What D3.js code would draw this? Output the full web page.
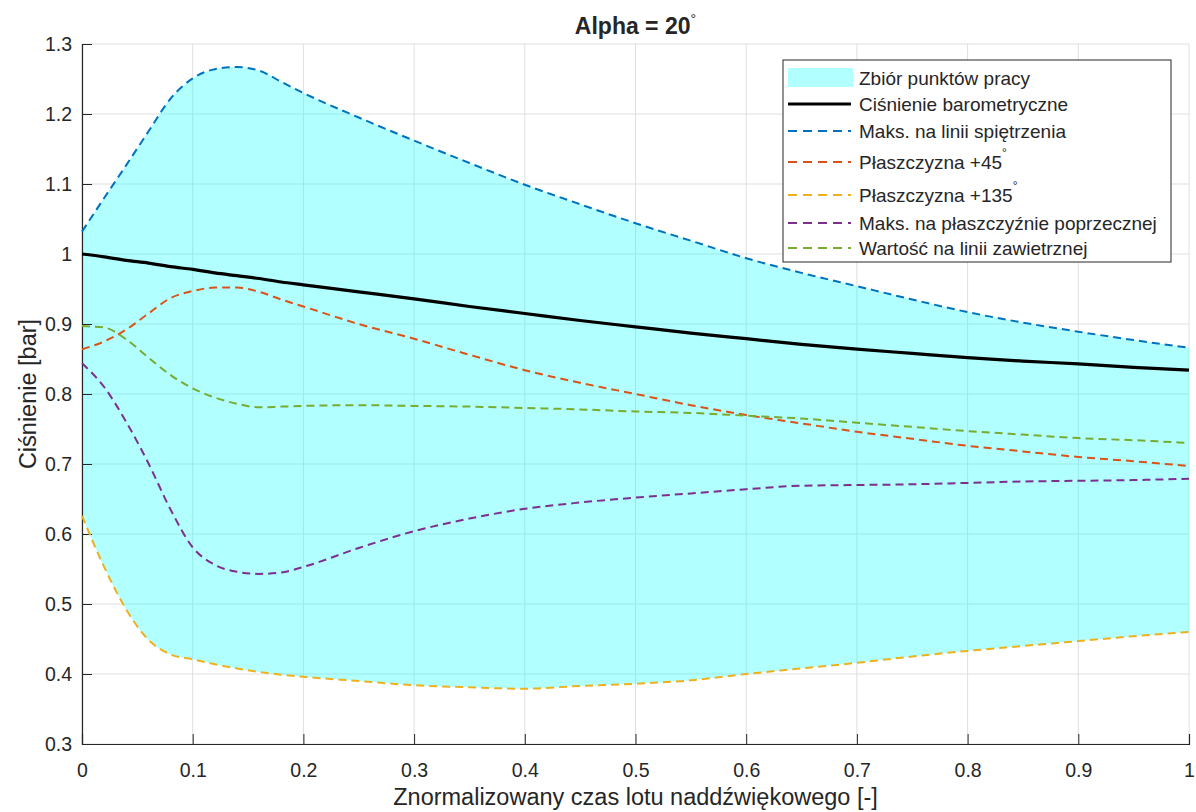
<!DOCTYPE html>
<html>
<head>
<meta charset="utf-8">
<script src="https://cdn.jsdelivr.net/npm/d3@7"></script>
<style>
  body { margin: 0; background: #fff; }
  text { font-family: "Liberation Sans", Arial, sans-serif; fill: #262626; }
</style>
</head>
<body>
<div class="chart"></div>
<script>
// Pressure ranges over normalized supersonic flight time, alpha = 20 deg

// x values (normalized time)
var tx = [0, 0.02, 0.04, 0.06, 0.08, 0.1, 0.12, 0.14, 0.16, 0.18, 0.2, 0.25, 0.3, 0.35, 0.4,
          0.45, 0.5, 0.55, 0.6, 0.65, 0.7, 0.75, 0.8, 0.85, 0.9, 0.95, 1];

var baro = [1.0, 0.996, 0.991, 0.987, 0.982, 0.978, 0.973, 0.969, 0.965, 0.960, 0.956, 0.946, 0.936,
            0.925, 0.915, 0.905, 0.896, 0.887, 0.879, 0.871, 0.864, 0.858, 0.852, 0.847, 0.843, 0.838, 0.834];
var stag = [1.032, 1.08, 1.127, 1.175, 1.222, 1.251, 1.264, 1.267, 1.262, 1.246, 1.230, 1.195, 1.162,
            1.13, 1.099, 1.071, 1.044, 1.019, 0.994, 0.973, 0.954, 0.935, 0.917, 0.902, 0.889, 0.877, 0.866];
var p45 = [0.864, 0.875, 0.892, 0.915, 0.937, 0.947, 0.952, 0.952, 0.946, 0.935, 0.925, 0.9, 0.879,
           0.856, 0.834, 0.816, 0.8, 0.784, 0.77, 0.758, 0.746, 0.736, 0.726, 0.718, 0.71, 0.704, 0.697];
var p135 = [0.626, 0.553, 0.492, 0.449, 0.428, 0.421, 0.414, 0.408, 0.403, 0.399, 0.396, 0.39, 0.384,
            0.381, 0.379, 0.383, 0.386, 0.391, 0.4, 0.408, 0.416, 0.425, 0.433, 0.44, 0.447, 0.454, 0.46];
var cross = [0.844, 0.81, 0.76, 0.701, 0.635, 0.581, 0.556, 0.546, 0.543, 0.545, 0.553, 0.58, 0.604,
             0.622, 0.636, 0.645, 0.652, 0.658, 0.664, 0.669, 0.670, 0.671, 0.673, 0.675, 0.676, 0.677, 0.679];
var lee = [0.897, 0.895, 0.878, 0.852, 0.827, 0.808, 0.795, 0.786, 0.781, 0.782, 0.783, 0.784, 0.783,
           0.782, 0.78, 0.778, 0.775, 0.773, 0.769, 0.765, 0.759, 0.753, 0.747, 0.742, 0.737, 0.734, 0.730];

var xTicks = [0, 0.1, 0.2, 0.3, 0.4, 0.5, 0.6, 0.7, 0.8, 0.9, 1];
var yTicks = [0.3, 0.4, 0.5, 0.6, 0.7, 0.8, 0.9, 1, 1.1, 1.2, 1.3];

var svgWidth = 1196, svgHeight = 812;
var margin = { top: 44, right: 7, bottom: 68, left: 82 };
var width = svgWidth - margin.left - margin.right;
var height = svgHeight - margin.top - margin.bottom;

var svg = d3.select(".chart").append("svg")
  .attr("width", svgWidth)
  .attr("height", svgHeight);

var chart = svg.append("g")
  .attr("transform", "translate(" + margin.left + "," + margin.top + ")");

var x = d3.scaleLinear().domain([0, 1]).range([0, width]);
var y = d3.scaleLinear().domain([0.3, 1.3]).range([height, 0]);

// grid
chart.append("g").selectAll("line").data(xTicks).enter().append("line")
  .attr("x1", function(d) { return x(d); }).attr("x2", function(d) { return x(d); })
  .attr("y1", 0).attr("y2", height)
  .attr("stroke", "#dfdfdf").attr("stroke-width", 1);
chart.append("g").selectAll("line").data(yTicks).enter().append("line")
  .attr("y1", function(d) { return y(d); }).attr("y2", function(d) { return y(d); })
  .attr("x1", 0).attr("x2", width)
  .attr("stroke", "#dfdfdf").attr("stroke-width", 1);

// operating range fill
var area = d3.area()
  .x(function(d, i) { return x(tx[i]); })
  .y0(function(d, i) { return y(p135[i]); })
  .y1(function(d, i) { return y(stag[i]); })
  .curve(d3.curveMonotoneX);

chart.append("path")
  .datum(tx)
  .attr("d", area)
  .attr("fill", "#00ffff")
  .attr("fill-opacity", 0.3);

// axes (ticks inward, MATLAB style)
var xAxis = d3.axisBottom(x).tickValues(xTicks).tickSize(-10).tickPadding(19)
  .tickFormat(function(d) { return d3.format("~g")(d); });
var yAxis = d3.axisLeft(y).tickValues(yTicks).tickSize(-10).tickPadding(10)
  .tickFormat(function(d) { return d3.format("~g")(d); });

var gx = chart.append("g")
  .attr("transform", "translate(0," + height + ")")
  .call(xAxis);
var gy = chart.append("g").call(yAxis);

[gx, gy].forEach(function(g) {
  g.select(".domain").attr("stroke", "#262626").attr("stroke-width", 1.2);
  g.selectAll(".tick line").attr("stroke", "#262626").attr("stroke-width", 1);
  g.selectAll(".tick text")
    .attr("font-family", "Liberation Sans, Arial, sans-serif")
    .attr("font-size", 19.5).attr("fill", "#262626");
});

// series lines
var series = [
  { name: "Maks. na linii spiętrzenia", values: stag, color: "#0072BD" },
  { name: "Płaszczyzna +45", values: p45, color: "#D95319", sup: true },
  { name: "Płaszczyzna +135", values: p135, color: "#EDB120", sup: true },
  { name: "Maks. na płaszczyźnie poprzecznej", values: cross, color: "#7E2F8E" },
  { name: "Wartość na linii zawietrznej", values: lee, color: "#77AC30" }
];

var line = d3.line()
  .x(function(d, i) { return x(tx[i]); })
  .y(function(d) { return y(d); })
  .curve(d3.curveMonotoneX);

chart.append("path")
  .datum(baro)
  .attr("d", line)
  .attr("fill", "none")
  .attr("stroke", "#000")
  .attr("stroke-width", 3.2);

// draw order as in MATLAB: stagnation first, lee last
series.forEach(function(s) {
  chart.append("path")
    .datum(s.values)
    .attr("d", line)
    .attr("fill", "none")
    .attr("stroke", s.color)
    .attr("stroke-width", 2)
    .attr("stroke-dasharray", "8,5");
});

// title
var title = svg.append("text")
  .attr("x", margin.left + width / 2)
  .attr("y", 34)
  .attr("text-anchor", "middle")
  .attr("font-size", 23)
  .attr("font-weight", "bold");
title.append("tspan").text("Alpha = 20");
title.append("tspan").attr("dy", -10).attr("font-size", 14).attr("font-weight", "normal").text("°");

// axis labels
svg.append("text")
  .attr("x", margin.left + width / 2)
  .attr("y", 805)
  .attr("text-anchor", "middle")
  .attr("font-size", 23.5)
  .text("Znormalizowany czas lotu naddźwiękowego [-]");

svg.append("text")
  .attr("transform", "translate(36," + (margin.top + height / 2) + ") rotate(-90)")
  .attr("text-anchor", "middle")
  .attr("font-size", 23.5)
  .text("Ciśnienie [bar]");

// legend
var legend = svg.append("g");
legend.append("rect")
  .attr("x", 783).attr("y", 60)
  .attr("width", 388).attr("height", 202)
  .attr("fill", "#fff").attr("stroke", "#262626").attr("stroke-width", 1);

var rowY = [78, 104, 131, 162, 195, 223, 248];

legend.append("rect")
  .attr("x", 788).attr("y", rowY[0] - 10)
  .attr("width", 65).attr("height", 19)
  .attr("fill", "#00ffff").attr("fill-opacity", 0.3);

legend.append("line")
  .attr("x1", 788).attr("x2", 851)
  .attr("y1", rowY[1]).attr("y2", rowY[1])
  .attr("stroke", "#000").attr("stroke-width", 3.2);

series.forEach(function(s, i) {
  var yy = rowY[i + 2];
  legend.append("line")
    .attr("x1", 788).attr("x2", 851)
    .attr("y1", yy).attr("y2", yy)
    .attr("stroke", s.color).attr("stroke-width", 2)
    .attr("stroke-dasharray", "9,6");
});

var labels = ["Zbiór punktów pracy", "Ciśnienie barometryczne"].concat(series.map(function(s) { return s.name; }));
labels.forEach(function(lab, i) {
  var t = legend.append("text")
    .attr("x", 859).attr("y", rowY[i] + 7)
    .attr("font-size", 19);
  t.append("tspan").text(lab);
  if (i >= 2 && series[i - 2].sup) {
    t.append("tspan").attr("dy", -12).attr("font-size", 12).text("°");
  }
});
</script>
</body>
</html>
